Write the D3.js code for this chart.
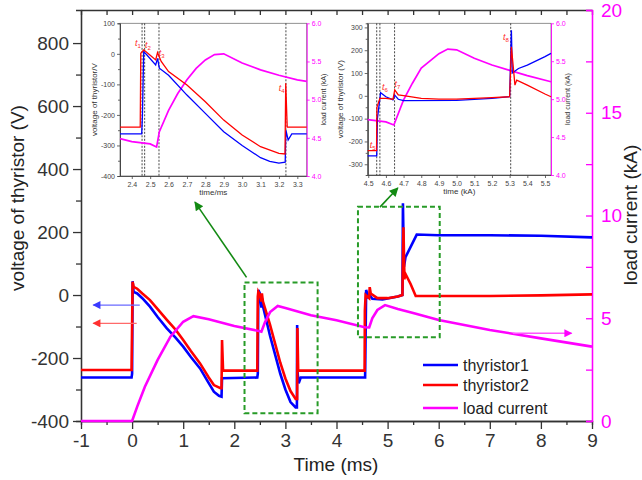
<html>
<head>
<style>
  body { margin: 0; background: #fff; }
  text { font-family: "Liberation Sans", Arial, sans-serif; }
</style>
</head>
<body>
<div id="chart"></div>
<script src="https://d3js.org/d3.v7.min.js"></script>
<script>
// main plot: [time ms, voltage V] and [time ms, current kA]
var mainThy1 = [[-1,-262],[-0.01,-262],[0,-250],[0.01,44],[0.03,10],[0.1,5],[0.2,-10],[0.35,-37],[0.5,-70],[0.68,-106],
  [0.85,-135],[1.0,-164],[1.15,-197],[1.33,-233],[1.5,-280],[1.6,-307],[1.7,-320],[1.75,-323],[1.76,-264],[2.45,-262],
  [2.46,-250],[2.47,16],[2.5,5],[2.53,-40],[2.54,-10],[2.56,-35],[2.7,-130],[2.8,-190],[2.9,-250],[3.0,-300],[3.1,-340],
  [3.2,-357],[3.225,-357],[3.23,-95],[3.24,-250],[3.26,-280],[3.3,-262],[4.55,-262],[4.56,-262],[4.58,16],[4.62,-5],
  [4.65,0],[4.7,-12],[4.9,-14],[5.2,-5],[5.29,0],[5.3,291],[5.32,90],[5.35,120],[5.57,192],[6,190],[7,190],[8,188],[9,183]];
var mainThy2 = [[-1,-238],[-0.01,-238],[0.01,42],[0.03,26],[0.1,20],[0.2,5],[0.35,-16],[0.5,-45],[0.68,-79],[0.85,-110],
  [1.0,-143],[1.15,-178],[1.33,-217],[1.5,-262],[1.6,-286],[1.73,-296],[1.75,-296],[1.76,-143],[1.78,-240],[2.45,-240],
  [2.46,-5],[2.47,10],[2.5,0],[2.53,-20],[2.54,5],[2.56,-20],[2.7,-95],[2.8,-155],[2.9,-215],[3.0,-265],[3.1,-305],
  [3.2,-330],[3.23,-330],[3.235,-105],[3.25,-240],[4.55,-240],[4.555,-50],[4.57,0],[4.64,-10],[4.65,25],[4.67,5],
  [4.8,-10],[5.0,-10],[5.2,-5],[5.29,0],[5.31,215],[5.33,50],[5.34,70],[5.45,35],[5.55,-3],[6,-3],[7,-3],[8,-1],[9,2]];
var mainLoad = [[-1,0],[0,0],[0.1,0.7],[0.25,1.67],[0.5,2.97],[0.75,4.1],[1.0,4.83],[1.2,5.1],[1.5,4.95],[2.0,4.62],
  [2.5,4.37],[2.53,4.35],[2.6,4.8],[2.7,5.3],[2.85,5.6],[3.0,5.5],[3.5,5.15],[4.0,4.9],[4.55,4.56],[4.64,4.55],
  [4.7,5.0],[4.8,5.4],[4.95,5.64],[5.2,5.45],[5.5,5.25],[6,4.91],[7,4.43],[8,4.02],[9,3.62]];

// inset 1 (2.34 - 3.35 ms)
var in1Thy1 = [[2.336,-262],[2.454,-262],[2.458,-200],[2.465,7],[2.48,-2],[2.53,-36],[2.54,-15],[2.55,-47],[2.6,-70],
  [2.7,-135],[2.8,-195],[2.9,-255],[3.0,-300],[3.1,-340],[3.15,-352],[3.2,-358],[3.234,-355],[3.238,-250],[3.25,-282],
  [3.27,-262],[3.351,-262]];
var in1Thy2 = [[2.336,-240],[2.446,-240],[2.449,2],[2.465,13],[2.5,-5],[2.53,-20],[2.54,4],[2.56,-25],[2.6,-58],
  [2.7,-102],[2.8,-157],[2.9,-217],[3.0,-266],[3.1,-304],[3.2,-326],[3.233,-328],[3.237,-96],[3.245,-240],[3.351,-240]];
var in1Load = [[2.336,4.49],[2.4,4.45],[2.5,4.42],[2.535,4.38],[2.55,4.58],[2.6,4.86],[2.65,5.08],[2.7,5.26],
  [2.75,5.41],[2.8,5.52],[2.85,5.59],[2.9,5.6],[3.0,5.48],[3.1,5.39],[3.2,5.32],[3.3,5.26],[3.351,5.24]];
var in1Marks = [2.456, 2.47, 2.548, 3.238];
var in1Labels = [[2.434,35,"1"],[2.488,29,"2"],[2.563,3,"3"],[3.215,-112,"4"]];

// inset 2 (4.5 - 5.53 ms)
var in2Thy1 = [[4.497,-263],[4.548,-263],[4.552,-100],[4.57,14],[4.6,-4],[4.64,-18],[4.65,3],[4.67,-15],[4.7,-21],
  [5.0,-20],[5.2,-11],[5.3,-4],[5.31,288],[5.315,100],[5.35,120],[5.4,135],[5.5,172],[5.534,186]];
var in2Thy2 = [[4.497,-240],[4.547,-240],[4.549,-50],[4.566,-11],[4.6,-11],[4.64,-15],[4.65,26],[4.67,4],[4.7,1],
  [4.8,-11],[4.9,-14],[5.0,-14],[5.2,-8],[5.3,-4],[5.31,215],[5.33,47],[5.34,69],[5.4,47],[5.5,8],[5.534,-4]];
var in2Load = [[4.497,4.73],[4.6,4.7],[4.645,4.66],[4.7,4.99],[4.75,5.21],[4.8,5.41],[4.9,5.6],[4.95,5.66],[5.0,5.65],
  [5.1,5.54],[5.2,5.45],[5.3,5.38],[5.4,5.31],[5.534,5.23]];
var in2Marks = [4.548, 4.566, 4.649, 5.306];
var in2Labels = [[4.525,-215,"5"],[4.595,39,"6"],[4.665,52,"7"],[5.279,257,"8"]];

// ticks
var xTicks = [-1,0,1,2,3,4,5,6,7,8,9];
var vTicks = [-400,-200,0,200,400,600,800];
var iTicks = [0,5,10,15,20];
var legendNames = ["thyristor1", "thyristor2", "load current"];
var colors = ["#0000ff", "#ff0000", "#ff00ff"];

var FONT = "'Liberation Sans', Arial, sans-serif";
var width = 642, height = 480;
var svg = d3.select("#chart").append("svg").attr("width", width).attr("height", height)
  .style("font-family", FONT);

var defs = svg.append("defs");
function marker(id, color, w, h) {
  defs.append("marker").attr("id", id).attr("markerUnits", "userSpaceOnUse")
    .attr("viewBox", "0 0 10 10").attr("refX", 9).attr("refY", 5)
    .attr("markerWidth", w).attr("markerHeight", h).attr("orient", "auto")
    .append("path").attr("d", "M0,0L10,5L0,10Z").attr("fill", color);
}
marker("arBlue", "#3a3aff", 11, 8);
marker("arRed", "#ff3030", 11, 8);
marker("arMag", "#ff00ff", 11, 8);
marker("arGreen", "#138a13", 12, 9);

var x = d3.scaleLinear().domain([-1, 9]).range([81, 592]);
var yV = d3.scaleLinear().domain([-400, 905]).range([421, 10]);
var yI = d3.scaleLinear().domain([0, 20]).range([421, 10]);

function styleAxis(g, color, size) {
  g.attr("font-family", null).attr("font-size", null);
  g.selectAll("path").attr("stroke", color).attr("stroke-width", 1.3);
  g.selectAll("line").attr("stroke", color).attr("stroke-width", 1.3);
  g.selectAll("text").attr("fill", color).style("font-size", size + "px").style("font-family", FONT);
}
function range(a, b, s) { var r = []; for (var v = a; v <= b + 1e-9; v += s) r.push(+v.toFixed(3)); return r; }

// main axes
var gx = svg.append("g").attr("transform", "translate(0,421)")
  .call(d3.axisBottom(x).tickValues(xTicks).tickSize(8).tickSizeOuter(0).tickPadding(5).tickFormat(function (d) { return String(d); }));
styleAxis(gx, "#333", 19);
var gxm = svg.append("g").attr("transform", "translate(0,421)")
  .call(d3.axisBottom(x).tickValues(range(-0.5, 8.5, 1)).tickSize(4).tickFormat(""));
styleAxis(gxm, "#333", 10);
var gxt = svg.append("g").attr("transform", "translate(0,10)")
  .call(d3.axisBottom(x).tickValues(range(-1, 9, 0.5)).tickSize(5).tickSizeOuter(0).tickFormat(""));
styleAxis(gxt, "#333", 10);

var gy = svg.append("g").attr("transform", "translate(81,0)")
  .call(d3.axisLeft(yV).tickValues(vTicks).tickSize(8).tickSizeOuter(0).tickPadding(4).tickFormat(function (d) { return String(d); }));
styleAxis(gy, "#333", 19);
var gym = svg.append("g").attr("transform", "translate(81,0)")
  .call(d3.axisLeft(yV).tickValues(range(-300, 700, 200)).tickSize(5).tickFormat(""));
styleAxis(gym, "#333", 10);

var gr = svg.append("g").attr("transform", "translate(592,0)")
  .call(d3.axisRight(yI).tickValues(iTicks).tickSize(-6).tickSizeOuter(0).tickPadding(9));
styleAxis(gr, "#ff00ff", 19);
var grm = svg.append("g").attr("transform", "translate(592,0)")
  .call(d3.axisRight(yI).tickValues([2.5, 7.5, 12.5, 17.5]).tickSize(-6).tickFormat(""));
styleAxis(grm, "#ff00ff", 10);

svg.append("text").attr("x", 336).attr("y", 471).attr("text-anchor", "middle")
  .style("font-size", "19px").attr("fill", "#222").text("Time (ms)");
svg.append("text").attr("transform", "translate(24,198) rotate(-90)").attr("text-anchor", "middle")
  .style("font-size", "19px").attr("fill", "#222").text("voltage of thyristor (V)");
svg.append("text").attr("transform", "translate(637,215) rotate(-90)").attr("text-anchor", "middle")
  .style("font-size", "19px").attr("fill", "#222").text("load current (kA)");

// main curves
var lineV = d3.line().x(function (d) { return x(d[0]); }).y(function (d) { return yV(d[1]); });
var lineI = d3.line().x(function (d) { return x(d[0]); }).y(function (d) { return yI(d[1]); });
svg.append("path").attr("d", lineV(mainThy1)).attr("fill", "none").attr("stroke", colors[0]).attr("stroke-width", 2.6);
svg.append("path").attr("d", lineV(mainThy2)).attr("fill", "none").attr("stroke", colors[1]).attr("stroke-width", 2.6);
svg.append("path").attr("d", lineI(mainLoad)).attr("fill", "none").attr("stroke", colors[2]).attr("stroke-width", 2.6);

// zoom boxes and arrows
var boxes = [[2.2, 3.63, 40, -375], [4.42, 6.02, 280, -134]];
boxes.forEach(function (b) {
  svg.append("rect").attr("x", x(b[0])).attr("y", yV(b[2]))
    .attr("width", x(b[1]) - x(b[0])).attr("height", yV(b[3]) - yV(b[2]))
    .attr("fill", "none").attr("stroke", "#279b27").attr("stroke-width", 2).attr("stroke-dasharray", "5,3");
});
var greenArrows = [[2.24, 56, 1.23, 295], [4.85, 279, 5.2, 340]];
greenArrows.forEach(function (a) {
  svg.append("line").attr("x1", x(a[0])).attr("y1", yV(a[1])).attr("x2", x(a[2])).attr("y2", yV(a[3]))
    .attr("stroke", "#138a13").attr("stroke-width", 1.6).attr("marker-end", "url(#arGreen)");
});
svg.append("line").attr("x1", x(0.15)).attr("y1", yV(-32)).attr("x2", x(-0.76)).attr("y2", yV(-32))
  .attr("stroke", "#6a6aff").attr("stroke-width", 1.3).attr("marker-end", "url(#arBlue)");
svg.append("line").attr("x1", x(0.09)).attr("y1", yV(-90)).attr("x2", x(-0.76)).attr("y2", yV(-90))
  .attr("stroke", "#ff6a6a").attr("stroke-width", 1.3).attr("marker-end", "url(#arRed)");
svg.append("line").attr("x1", x(7.45)).attr("y1", yI(4.27)).attr("x2", x(8.6)).attr("y2", yI(4.27))
  .attr("stroke", "#ff55ff").attr("stroke-width", 1.3).attr("marker-end", "url(#arMag)");

// legend
var legendY = [365, 385, 408];
legendNames.forEach(function (n, i) {
  svg.append("line").attr("x1", 423).attr("x2", 458).attr("y1", legendY[i]).attr("y2", legendY[i])
    .attr("stroke", colors[i]).attr("stroke-width", 2.6);
  svg.append("text").attr("x", 463).attr("y", legendY[i]).attr("dy", "0.35em")
    .style("font-size", "16px").attr("fill", "#222").text(n);
});

// insets
function drawInset(cfg) {
  var ix = d3.scaleLinear().domain(cfg.xd).range([cfg.l, cfg.r]);
  var iv = d3.scaleLinear().domain(cfg.vd).range([cfg.b, cfg.t]);
  var ii = d3.scaleLinear().domain([4, 6]).range([cfg.b, cfg.t]);
  var g = svg.append("g");
  g.append("rect").attr("x", cfg.l).attr("y", cfg.t).attr("width", cfg.r - cfg.l).attr("height", cfg.b - cfg.t)
    .attr("fill", "none").attr("stroke", "#777").attr("stroke-width", 0.8);

  var ax = g.append("g").attr("transform", "translate(0," + cfg.b + ")")
    .call(d3.axisBottom(ix).tickValues(cfg.xt).tickSize(3).tickSizeOuter(0).tickPadding(3).tickFormat(d3.format(".1f")));
  styleAxis(ax, "#444", 7);
  var av = g.append("g").attr("transform", "translate(" + cfg.l + ",0)")
    .call(d3.axisLeft(iv).tickValues(cfg.vt).tickSize(3).tickSizeOuter(0).tickPadding(2).tickFormat(function (d) { return String(d); }));
  styleAxis(av, "#444", 7);
  var avm = g.append("g").attr("transform", "translate(" + cfg.l + ",0)")
    .call(d3.axisLeft(iv).tickValues(cfg.vm).tickSize(2).tickFormat(""));
  styleAxis(avm, "#444", 7);
  var ai = g.append("g").attr("transform", "translate(" + cfg.r + ",0)")
    .call(d3.axisRight(ii).tickValues([4, 4.5, 5, 5.5, 6]).tickSize(3).tickSizeOuter(0).tickPadding(2).tickFormat(d3.format(".1f")));
  styleAxis(ai, "#ff00ff", 7);
  g.selectAll(".domain").attr("stroke-width", 0.9);
  g.selectAll(".tick line").attr("stroke-width", 0.8);

  cfg.marks.forEach(function (m) {
    g.append("line").attr("x1", ix(m)).attr("x2", ix(m)).attr("y1", cfg.t).attr("y2", cfg.b)
      .attr("stroke", "#333").attr("stroke-width", 0.9).attr("stroke-dasharray", "2,1.5");
  });

  var lv = d3.line().x(function (d) { return ix(d[0]); }).y(function (d) { return iv(d[1]); });
  var li = d3.line().x(function (d) { return ix(d[0]); }).y(function (d) { return ii(d[1]); });
  g.append("path").attr("d", li(cfg.load)).attr("fill", "none").attr("stroke", colors[2]).attr("stroke-width", 1.7);
  g.append("path").attr("d", lv(cfg.thy1)).attr("fill", "none").attr("stroke", colors[0]).attr("stroke-width", 1.3);
  g.append("path").attr("d", lv(cfg.thy2)).attr("fill", "none").attr("stroke", colors[1]).attr("stroke-width", 1.3);

  cfg.labels.forEach(function (lb) {
    var t = g.append("text").attr("x", ix(lb[0])).attr("y", iv(lb[1])).attr("dy", "0.35em")
      .attr("text-anchor", "middle").attr("fill", "#ff2a2a").style("font-size", "9px");
    t.append("tspan").style("font-style", "italic").text("t");
    t.append("tspan").attr("dy", "2").style("font-size", "6px").text(lb[2]);
  });

  g.append("text").attr("x", (cfg.l + cfg.r) / 2).attr("y", cfg.b + 19).attr("text-anchor", "middle")
    .style("font-size", "8px").attr("fill", "#333").text(cfg.xTitle);
  g.append("text").attr("transform", "translate(" + cfg.yTitleX + "," + (cfg.t + cfg.b) / 2 + ") rotate(-90)")
    .attr("text-anchor", "middle").style("font-size", "8px").attr("fill", "#333").text(cfg.yTitle);
  g.append("text").attr("transform", "translate(" + (cfg.r + 19) + "," + (cfg.t + cfg.b) / 2 + ") rotate(-90)")
    .attr("text-anchor", "middle").style("font-size", "7px").attr("fill", "#333").text("load current (kA)");
}

drawInset({ l: 120, r: 306.7, t: 23.3, b: 176, xd: [2.336, 3.351], vd: [-400, 100],
  xt: range(2.4, 3.3, 0.1), vt: range(-400, 100, 100), vm: range(-350, 50, 100),
  thy1: in1Thy1, thy2: in1Thy2, load: in1Load, marks: in1Marks, labels: in1Labels,
  xTitle: "time/ms", yTitle: "voltage of thyristor/V", yTitleX: 97 });
drawInset({ l: 367.7, r: 551, t: 23.3, b: 175, xd: [4.497, 5.534], vd: [-347, 318],
  xt: range(4.5, 5.5, 0.1), vt: range(-300, 300, 100), vm: range(-250, 250, 100),
  thy1: in2Thy1, thy2: in2Thy2, load: in2Load, marks: in2Marks, labels: in2Labels,
  xTitle: "time (kA)", yTitle: "voltage of thyristor (V)", yTitleX: 343 });
</script>
</body>
</html>
